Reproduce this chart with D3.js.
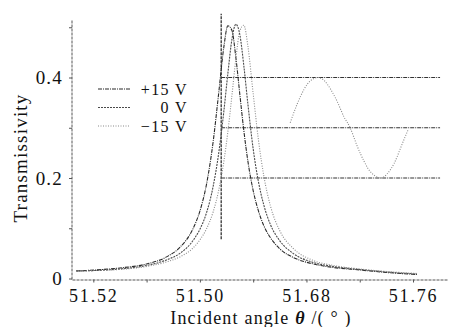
<!DOCTYPE html>
<html>
<head>
<meta charset="utf-8">
<script src="https://cdn.jsdelivr.net/npm/d3@7"></script>
<style>
  html, body { margin: 0; padding: 0; background: #fff; }
  svg { display: block; font-family: 'Liberation Serif', 'Times New Roman', serif; }
</style>
</head>
<body>
<svg id="chart"></svg>
<script>
// incident angle grid shared by the three resonance curves
const thetaGrid = [51.507, 51.522, 51.54, 51.56, 51.575, 51.585, 51.595, 51.6, 51.605, 51.61, 51.614, 51.618, 51.621, 51.624, 51.627, 51.63, 51.633, 51.636, 51.64, 51.644, 51.648, 51.653, 51.66, 51.67, 51.685, 51.7, 51.72, 51.74, 51.763];
const plus15 = [0.015, 0.017, 0.021, 0.029, 0.043, 0.062, 0.100, 0.134, 0.188, 0.273, 0.366, 0.461, 0.503, 0.494, 0.440, 0.366, 0.294, 0.234, 0.175, 0.134, 0.105, 0.081, 0.059, 0.042, 0.029, 0.022, 0.017, 0.012, 0.008];
const zeroV = [0.015, 0.016, 0.019, 0.026, 0.037, 0.050, 0.076, 0.098, 0.131, 0.184, 0.247, 0.333, 0.408, 0.475, 0.506, 0.485, 0.423, 0.348, 0.258, 0.192, 0.146, 0.107, 0.075, 0.050, 0.032, 0.024, 0.018, 0.013, 0.009];
const minus15 = [0.014, 0.016, 0.018, 0.024, 0.033, 0.043, 0.061, 0.077, 0.099, 0.133, 0.174, 0.233, 0.292, 0.363, 0.437, 0.493, 0.504, 0.463, 0.368, 0.275, 0.204, 0.144, 0.095, 0.060, 0.036, 0.026, 0.019, 0.014, 0.010];

// modulated output signal drawn to the right
const sineTheta = [51.6678, 51.6730, 51.6783, 51.6828, 51.6880, 51.6933, 51.6985, 51.7038, 51.7083, 51.7128, 51.7180, 51.7233, 51.7285, 51.7353, 51.7405, 51.7458, 51.7510, 51.7563];
const sineT = [0.31, 0.347, 0.377, 0.393, 0.40, 0.394, 0.375, 0.348, 0.321, 0.30, 0.264, 0.233, 0.211, 0.20, 0.208, 0.229, 0.262, 0.296];

// operating point and reference levels
const biasTheta = 51.616;
const biasRange = [0.078, 0.527];
const refLevels = [0.4, 0.3, 0.2];
const refEnd = 51.7803;

const seriesNames = ['+15 V', '0 V', '\u221215 V'];
const xTicks = [51.52, 51.56, 51.60, 51.64, 51.68, 51.72, 51.76];
const xTickLabels = ['51.52', '', '51.50', '', '51.68', '', '51.76'];
const yTicks = [0, 0.1, 0.2, 0.3, 0.4, 0.5];
const yTickLabels = ['0', '', '0.2', '', '0.4', ''];

const width = 449;
const height = 327;

const svg = d3.select('#chart')
  .attr('width', width)
  .attr('height', height);

const xScale = d3.scaleLinear()
  .domain([51.504, 51.7855])
  .range([72, 447]);

const yScale = d3.scaleLinear()
  .domain([0, 0.4])
  .range([278.5, 77.5]);

const styles = [
  { stroke: '#2a2a2a', dash: '4,1,1,1' },
  { stroke: '#4a4a4a', dash: '2,1' },
  { stroke: '#8a8a8a', dash: '1,1.5' }
];

// axes
const xAxis = d3.axisBottom(xScale)
  .tickValues(xTicks)
  .tickSize(3)
  .tickSizeOuter(0)
  .tickFormat((d, i) => xTickLabels[i]);

const gx = svg.append('g')
  .attr('transform', `translate(0, ${yScale(0) + 1})`)
  .call(xAxis);

gx.select('.domain')
  .attr('stroke', '#555')
  .attr('stroke-dasharray', '3,1');

gx.selectAll('.tick line').attr('stroke', '#555');
gx.selectAll('.tick text')
  .attr('y', 22)
  .attr('dy', 0)
  .attr('fill', '#111')
  .attr('font-family', "'Liberation Serif', serif")
  .attr('font-size', 18)
  .attr('letter-spacing', 1.8);

const yAxis = d3.axisLeft(yScale)
  .tickValues(yTicks)
  .tickSize(3)
  .tickSizeOuter(0)
  .tickFormat((d, i) => yTickLabels[i]);

const gy = svg.append('g')
  .attr('transform', 'translate(72, 0)')
  .call(yAxis);

gy.select('.domain').remove();
gy.append('line')
  .attr('x1', 0).attr('x2', 0)
  .attr('y1', yScale(0) + 1).attr('y2', yScale(0.515))
  .attr('stroke', '#555')
  .attr('stroke-dasharray', '3,1');

gy.selectAll('.tick line').attr('stroke', '#555');
gy.selectAll('.tick text')
  .attr('x', -9)
  .attr('dy', 6)
  .attr('fill', '#111')
  .attr('font-family', "'Liberation Serif', serif")
  .attr('font-size', 19)
  .attr('letter-spacing', 1.2);

// operating point and reference lines
svg.append('line')
  .attr('x1', xScale(biasTheta)).attr('x2', xScale(biasTheta))
  .attr('y1', yScale(biasRange[0])).attr('y2', yScale(biasRange[1]))
  .attr('stroke', '#333')
  .attr('stroke-width', 1.3)
  .attr('stroke-dasharray', '3,1');

svg.selectAll('.ref')
  .data(refLevels)
  .enter()
  .append('line')
  .attr('class', 'ref')
  .attr('x1', xScale(biasTheta))
  .attr('x2', xScale(refEnd))
  .attr('y1', d => yScale(d))
  .attr('y2', d => yScale(d))
  .attr('stroke', '#333')
  .attr('stroke-dasharray', '4,1,1,1');

// resonance curves
const curveData = [plus15, zeroV, minus15].map(vals => thetaGrid.map((t, i) => ({ t, v: vals[i] })));

const line = d3.line()
  .x(d => xScale(d.t))
  .y(d => yScale(d.v))
  .curve(d3.curveMonotoneX);

svg.selectAll('.curve')
  .data(curveData)
  .enter()
  .append('path')
  .attr('class', 'curve')
  .attr('d', line)
  .attr('fill', 'none')
  .attr('stroke', (d, i) => styles[i].stroke)
  .attr('stroke-width', 1.1)
  .attr('stroke-dasharray', (d, i) => styles[i].dash);

// output signal
svg.append('path')
  .datum(sineTheta.map((t, i) => ({ t, v: sineT[i] })))
  .attr('d', line.curve(d3.curveNatural))
  .attr('fill', 'none')
  .attr('stroke', '#8a8a8a')
  .attr('stroke-width', 1.1)
  .attr('stroke-dasharray', '1,1.5');

// legend
const legend = svg.append('g');
seriesNames.forEach((name, i) => {
  const y = 89 + i * 18.5;
  legend.append('line')
    .attr('x1', 98).attr('x2', 130)
    .attr('y1', y).attr('y2', y)
    .attr('stroke', styles[i].stroke)
    .attr('stroke-width', 1.1)
    .attr('stroke-dasharray', styles[i].dash);
  legend.append('text')
    .attr('x', 188)
    .attr('y', y + 5.5)
    .attr('text-anchor', 'end')
    .attr('font-size', 16)
    .attr('letter-spacing', 1.4)
    .attr('fill', '#111')
    .text(name);
});

// axis titles
const xTitle = svg.append('text')
  .attr('x', 261)
  .attr('y', 324)
  .attr('text-anchor', 'middle')
  .attr('font-size', 18)
  .attr('letter-spacing', 1.2)
  .attr('fill', '#111');
xTitle.append('tspan').text('Incident angle ');
xTitle.append('tspan').attr('font-style', 'italic').attr('font-weight', 'bold').text('\u03b8');
xTitle.append('tspan').text(' /( \u00b0 )');

svg.append('text')
  .attr('transform', 'translate(27, 158) rotate(-90)')
  .attr('text-anchor', 'middle')
  .attr('font-size', 19)
  .attr('letter-spacing', 1.2)
  .attr('fill', '#111')
  .text('Transmissivity');
</script>
</body>
</html>
